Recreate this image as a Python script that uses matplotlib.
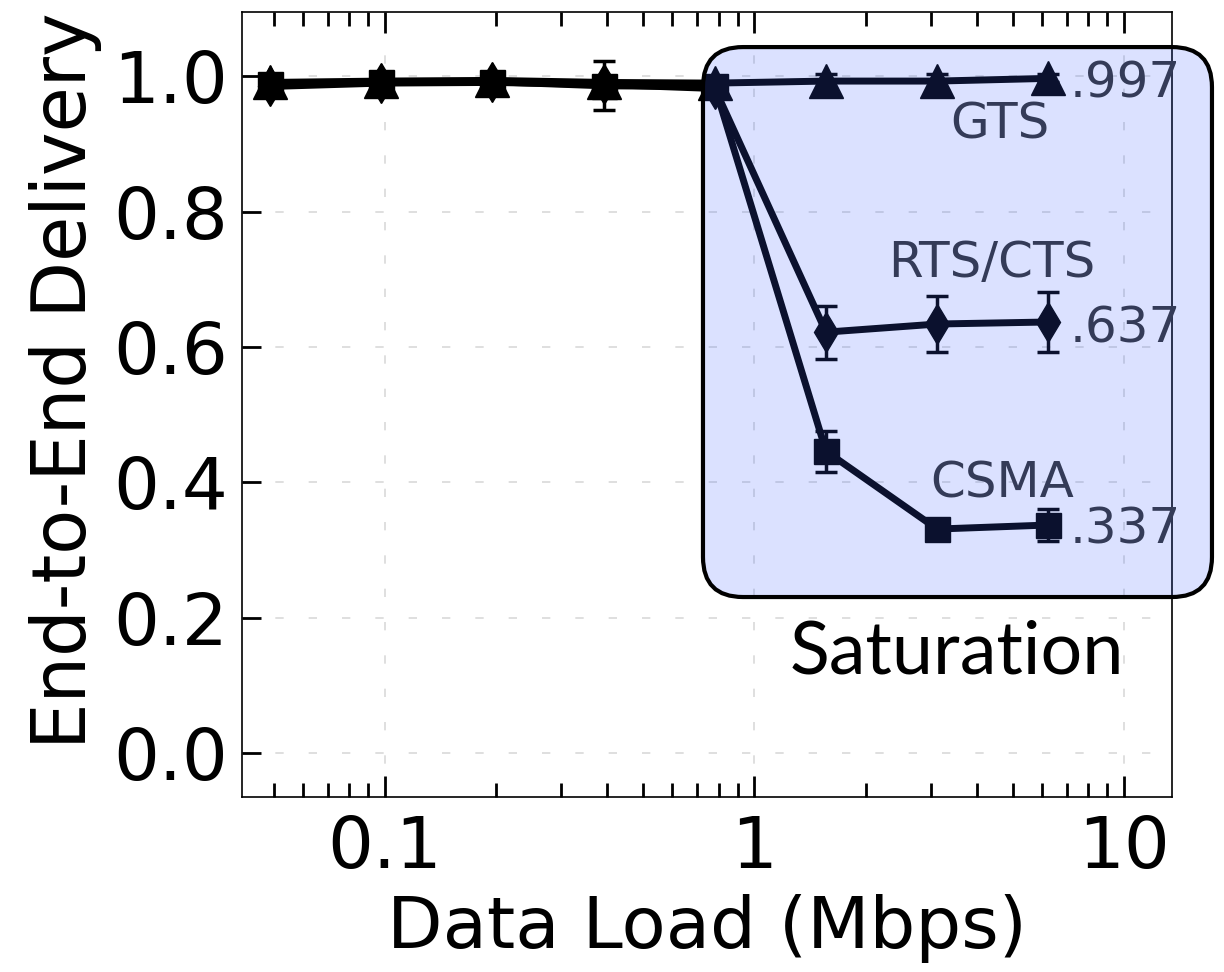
import matplotlib
matplotlib.use('Agg')
import matplotlib.pyplot as plt
from matplotlib.patches import FancyBboxPatch
from matplotlib.ticker import FixedLocator, LogLocator, NullFormatter

# Data load (Mbps)
load = [0.048828, 0.097656, 0.195313, 0.390625, 0.78125, 1.5625, 3.125, 6.25]

# End-to-end delivery ratio per MAC scheme
gts = [0.991, 0.993, 0.994, 0.991, 0.990, 0.993, 0.993, 0.997]
gts_err = [0.005, 0.004, 0.004, 0.005, 0.005, 0.010, 0.010, 0.006]
rts = [0.985, 0.990, 0.991, 0.988, 0.982, 0.622, 0.634, 0.637]
rts_err = [0.005, 0.004, 0.004, 0.006, 0.006, 0.039, 0.041, 0.044]
csma = [0.988, 0.991, 0.992, 0.986, 0.985, 0.446, 0.331, 0.337]
csma_err = [0.005, 0.004, 0.004, 0.036, 0.006, 0.030, 0.010, 0.024]

xticks = [0.1, 1, 10]
xtick_labels = ['0.1', '1', '10']
yticks = [0.0, 0.2, 0.4, 0.6, 0.8, 1.0]
ytick_labels = ['0.0', '0.2', '0.4', '0.6', '0.8', '1.0']

fig = plt.figure(figsize=(12.24, 9.72), dpi=100)
ax = fig.add_axes([0.1977, 0.18, 0.7598, 0.8076])

style = dict(color='black', lw=5, elinewidth=2.5, capsize=8, capthick=2.5)
ax.errorbar(load, gts, yerr=gts_err, marker='^', ms=25, **style)
ax.errorbar(load, rts, yerr=rts_err, marker='d', ms=20, **style)
ax.errorbar(load, csma, yerr=csma_err, marker='s', ms=18, **style)

ax.set_xscale('log')
ax.set_xlim(0.041, 13.5)
ax.set_ylim(-0.065, 1.095)

ax.xaxis.set_major_locator(FixedLocator(xticks))
ax.set_xticklabels(xtick_labels)
ax.xaxis.set_minor_locator(LogLocator(base=10, subs=range(2, 10)))
ax.xaxis.set_minor_formatter(NullFormatter())
ax.set_yticks(yticks)
ax.set_yticklabels(ytick_labels)

ax.tick_params(axis='x', which='major', direction='in', length=15, width=2,
               top=True, labelsize=52, pad=12)
ax.tick_params(axis='x', which='minor', direction='in', length=10, width=2,
               top=True)
ax.tick_params(axis='y', which='major', direction='in', length=14, width=2,
               labelsize=52, pad=10)

for s in ax.spines.values():
    s.set_linewidth(1.2)

ax.grid(True, which='major', color='#d9d9d9', lw=1.2, linestyle=(0, (5, 15)))
ax.set_axisbelow(True)

ax.set_xlabel('Data Load (Mbps)', fontsize=52, labelpad=8)
ax.set_ylabel('End-to-End Delivery', fontsize=53, labelpad=8)
ax.yaxis.label.set_y(0.531)

# value and series labels
lab = dict(fontsize=36, color='#333333')
ax.text(7.14, 0.969, '.997', ha='left', va='baseline', **lab)
ax.text(7.14, 0.607, '.637', ha='left', va='baseline', **lab)
ax.text(7.14, 0.309, '.337', ha='left', va='baseline', **lab)
ax.text(4.62, 0.908, 'GTS', ha='center', va='baseline', **lab)
ax.text(4.39, 0.703, 'RTS/CTS', ha='center', va='baseline', **lab)
ax.text(4.69, 0.378, 'CSMA', ha='center', va='baseline', **lab)

# saturation region overlay
box = FancyBboxPatch((0.4957, 0.2548), 0.5473, 0.7006,
                     boxstyle='round,pad=0,rounding_size=0.043',
                     mutation_aspect=1.185, transform=ax.transAxes,
                     facecolor=(0.235, 0.38, 1.0, 0.185), edgecolor='black',
                     lw=3, clip_on=False, zorder=5)
ax.add_patch(box)
ax.text(3.53, 0.118, 'Saturation', ha='center', va='baseline', fontsize=53,
        family='Lato', color='black', zorder=6)

fig.savefig('out.png', dpi=100)
